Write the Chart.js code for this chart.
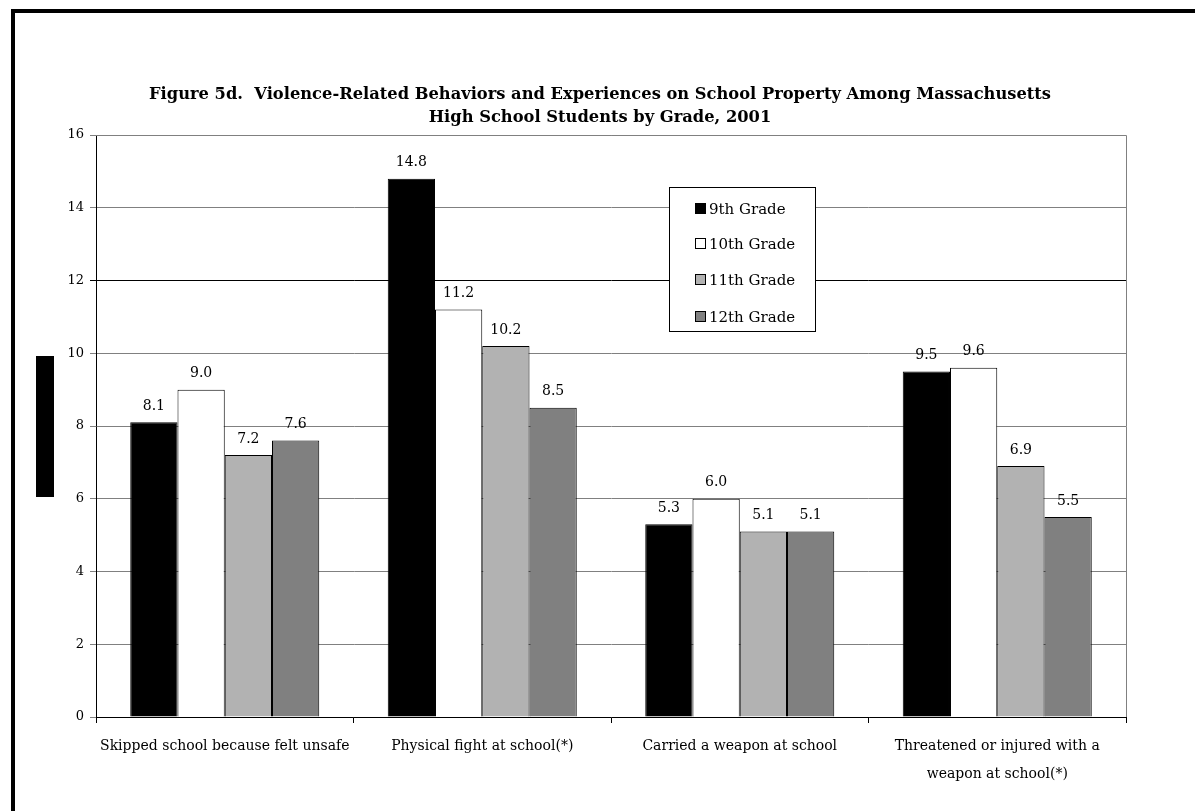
<!DOCTYPE html>
<html>
<head>
<meta charset="utf-8">
<script src="https://cdn.jsdelivr.net/npm/chart.js@4"></script>
<style>
  html, body { margin:0; padding:0; width:1195px; height:811px; overflow:hidden; background:#fff; }
  #frame { position:absolute; left:11px; top:9px; width:1400px; height:1000px; border:4px solid #000; box-sizing:border-box; }
  #blk { position:absolute; left:36px; top:356px; width:18px; height:141px; background:#000; }
  #wrap { position:absolute; left:0; top:0; width:1195px; height:811px; }
</style>
</head>
<body>
<div id="frame"></div>
<div id="blk"></div>
<div id="wrap"><canvas id="c" width="1195" height="811"></canvas></div>
<script>
const titleLines = ["Figure 5d.  Violence-Related Behaviors and Experiences on School Property Among Massachusetts", "High School Students by Grade, 2001"];
const categories = [
  "Skipped school because felt unsafe",
  "Physical fight at school(*)",
  "Carried a weapon at school",
  ["Threatened or injured with a", "weapon at school(*)"]
];
const seriesNames = ["9th Grade", "10th Grade", "11th Grade", "12th Grade"];
const grade9  = [8.1, 14.8, 5.3, 9.5];
const grade10 = [9.0, 11.2, 6.0, 9.6];
const grade11 = [7.2, 10.2, 5.1, 6.9];
const grade12 = [7.6, 8.5, 5.1, 5.5];
const yTicks = [0, 2, 4, 6, 8, 10, 12, 14, 16];

const colors = ["#000000", "#ffffff", "#b2b2b2", "#808080"];
const serif = "'DejaVu Serif', 'Liberation Serif', serif";

const titleDraw = {
  id: 'titleDraw',
  afterDraw(chart) {
    const ctx = chart.ctx;
    ctx.save();
    ctx.font = "bold 16.3px " + serif;
    ctx.fillStyle = "#000";
    ctx.textAlign = "center";
    ctx.textBaseline = "middle";
    ctx.fillText(titleLines[0], 600, 95);
    ctx.fillText(titleLines[1], 600, 118);
    ctx.restore();
  }
};

const valueLabels = {
  id: 'valueLabels',
  afterDatasetsDraw(chart) {
    const ctx = chart.ctx;
    ctx.save();
    ctx.font = "14px " + serif;
    ctx.fillStyle = "#000";
    ctx.textAlign = "center";
    ctx.textBaseline = "bottom";
    chart.data.datasets.forEach((ds, i) => {
      const meta = chart.getDatasetMeta(i);
      meta.data.forEach((bar, j) => {
        ctx.fillText(ds.data[j].toFixed(1), bar.x, bar.y - 9);
      });
    });
    ctx.restore();
  }
};

const boxLegend = {
  id: 'boxLegend',
  afterDraw(chart) {
    const ctx = chart.ctx;
    const x0 = 669, y0 = 187, w = 146, h = 144;
    ctx.save();
    ctx.fillStyle = "#fff";
    ctx.fillRect(x0, y0, w, h);
    ctx.strokeStyle = "#000";
    ctx.lineWidth = 1;
    ctx.strokeRect(x0 + 0.5, y0 + 0.5, w, h);
    ctx.font = "15px " + serif;
    ctx.textBaseline = "middle";
    ctx.textAlign = "left";
    const ys = [209, 244, 280, 317];
    chart.data.datasets.forEach((ds, i) => {
      const y = ys[i];
      ctx.fillStyle = ds.backgroundColor;
      ctx.fillRect(x0 + 26, y - 6, 11, 11);
      ctx.strokeStyle = "#000";
      ctx.strokeRect(x0 + 26.5, y - 5.5, 10, 10);
      ctx.fillStyle = "#000";
      ctx.fillText(ds.label, x0 + 40, y + 1);
    });
    ctx.restore();
  }
};

const plotFrame = {
  id: 'plotFrame',
  beforeDatasetsDraw(chart) {
    const a = chart.chartArea, ctx = chart.ctx;
    ctx.save();
    ctx.strokeStyle = "#808080";
    ctx.lineWidth = 1;
    ctx.beginPath();
    ctx.moveTo(a.left, a.top + 0.5); ctx.lineTo(a.right + 0.5, a.top + 0.5);
    ctx.lineTo(a.right + 0.5, a.bottom);
    ctx.stroke();
    ctx.restore();
  }
};

new Chart(document.getElementById('c'), {
  type: 'bar',
  data: {
    labels: categories,
    datasets: [grade9, grade10, grade11, grade12].map((d, i) => ({
      label: seriesNames[i],
      data: d,
      backgroundColor: colors[i],
      borderColor: "#000",
      borderWidth: 1,
      categoryPercentage: 0.734,
      barPercentage: 1.0
    }))
  },
  options: {
    responsive: false,
    animation: false,
    devicePixelRatio: 1,
    layout: { padding: { left: 0, right: 69, top: 135, bottom: 0 } },
    plugins: {
      legend: { display: false },
      tooltip: { enabled: false },
      title: { display: false }
    },
    scales: {
      x: {
        offset: true,
        grid: { offset: true, drawOnChartArea: false, drawTicks: true, tickLength: 6, color: "#000" },
        border: { color: "#000", width: 1 },
        ticks: { color: "#000", font: { family: serif, size: 14, lineHeight: 1.95 }, padding: 10, maxRotation: 0, autoSkip: false },
        afterFit(s) { s.height = 94; }
      },
      y: {
        min: 0, max: 16,
        afterBuildTicks(s) { s.ticks = yTicks.map(v => ({ value: v })); },
        grid: { color: (c) => c.tick && c.tick.value === 12 ? "#000" : "#808080", tickLength: 6, drawTicks: true },
        border: { color: "#000", width: 1 },
        ticks: { color: "#000", font: { family: serif, size: 13 }, padding: 6 },
        afterFit(s) { s.width = 96; }
      }
    }
  },
  plugins: [plotFrame, valueLabels, boxLegend, titleDraw]
});
</script>
</body>
</html>
